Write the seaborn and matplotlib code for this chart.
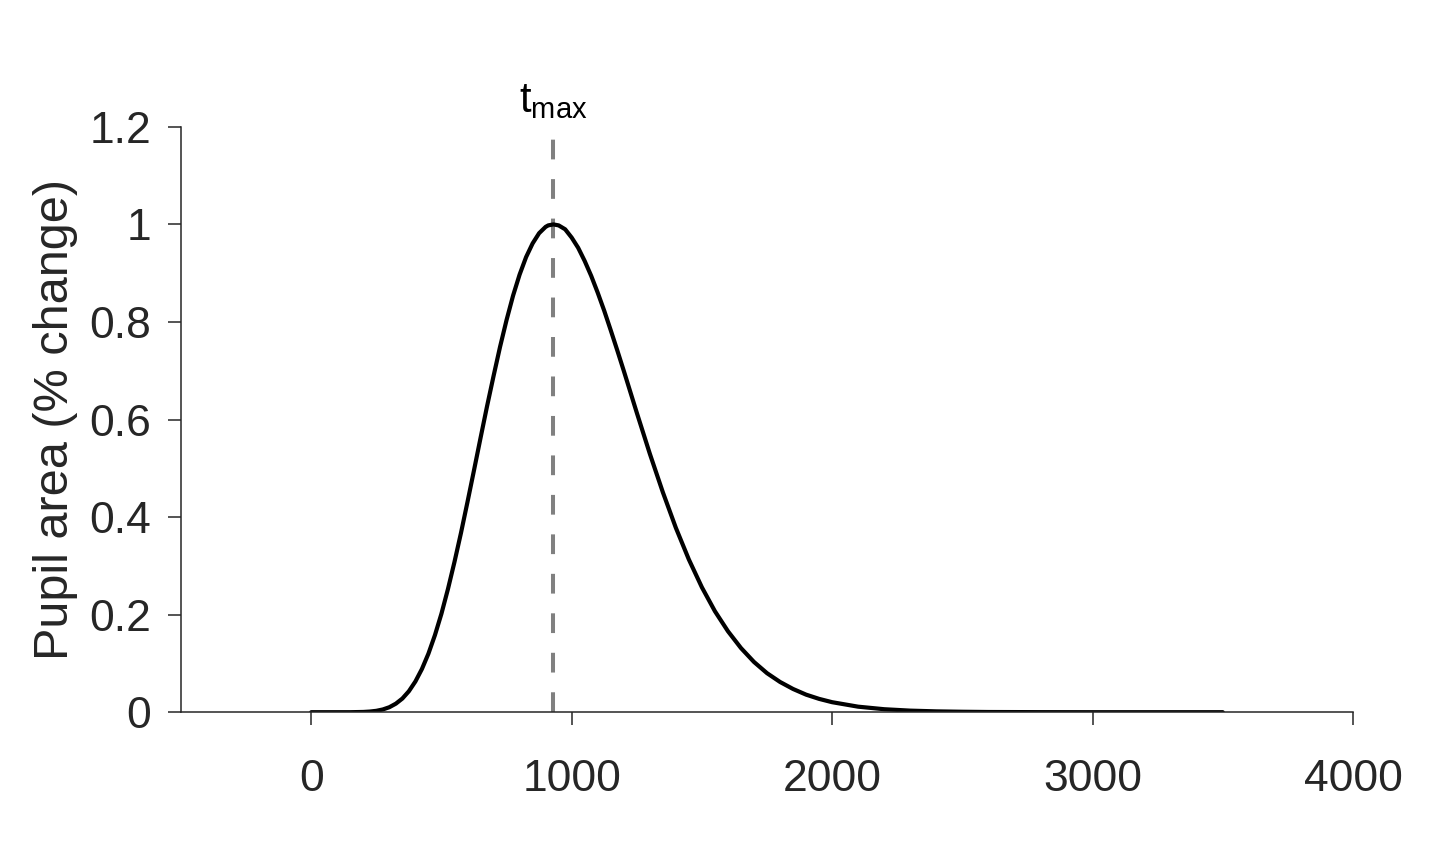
import matplotlib
matplotlib.use("Agg")
import matplotlib.pyplot as plt
import seaborn as sns
import pandas as pd

# Temps (ms) et réponse pupillaire
time_ms = [0, 50, 100, 150, 200, 225, 250, 275, 300, 325, 350, 375, 400, 425,
           450, 475, 500, 525, 550, 575, 600, 625, 650, 675, 700, 725, 750,
           775, 800, 825, 850, 875, 900, 910, 930, 950, 975, 1000, 1025, 1050,
           1075, 1100, 1125, 1150, 1175, 1200, 1250, 1300, 1350, 1400, 1450,
           1500, 1550, 1600, 1650, 1700, 1750, 1800, 1850, 1900, 1950, 2000,
           2100, 2200, 2300, 2400, 2500, 2600, 2800, 3000, 3250, 3500]
pupil_change = [0.0, 0.0, 0.0, 0.0, 0.0005, 0.0013, 0.0028, 0.0056, 0.0102,
                0.0175, 0.028, 0.043, 0.063, 0.0885, 0.120, 0.158, 0.202,
                0.2525, 0.308, 0.3675, 0.431, 0.496, 0.562, 0.627, 0.689,
                0.749, 0.804, 0.854, 0.897, 0.933, 0.961, 0.982, 0.995, 0.998,
                1.0, 0.998, 0.990, 0.973, 0.952, 0.925, 0.8945, 0.860, 0.823,
                0.783, 0.742, 0.700, 0.614, 0.530, 0.451, 0.378, 0.313, 0.256,
                0.207, 0.166, 0.1315, 0.103, 0.080, 0.062, 0.0476, 0.036,
                0.0273, 0.0205, 0.0113, 0.0061, 0.0032, 0.0017, 0.0009, 0.0004,
                0.0001, 0.0, 0.0, 0.0]
tmax_ms = 930

x_ticks = [0, 1000, 2000, 3000, 4000]
y_ticks = [0, 0.2, 0.4, 0.6, 0.8, 1.0, 1.2]
y_tick_labels = ['0', '0.2', '0.4', '0.6', '0.8', '1', '1.2']

df = pd.DataFrame({'time': time_ms, 'pupil': pupil_change})

sns.set_style('ticks')
plt.rcParams['font.family'] = ['Liberation Sans', 'DejaVu Sans']
plt.rcParams['mathtext.default'] = 'regular'

text_col = '#262626'
fig = plt.figure(figsize=(14.48, 8.56), dpi=100)
ax = fig.add_axes([0.125, 0.168, 0.8094, 0.6838])

# Ligne verticale en pointillés à t_max
ax.vlines(tmax_ms, 0, 1.2, colors='#808080', linewidth=2.9, linestyles=(0, (4.9, 4.9)), zorder=1)

# Courbe de réponse pupillaire
sns.lineplot(data=df, x='time', y='pupil', color='black', linewidth=3, ax=ax, zorder=2)

ax.text(tmax_ms, 1.212, r'$t_{max}$', ha='center', va='bottom', fontsize=30, color='black')

ax.set_xlim(-500, 4000)
ax.set_ylim(0, 1.2)
ax.set_xticks(x_ticks)
ax.set_yticks(y_ticks)
ax.set_yticklabels(y_tick_labels)
ax.set_xlabel('')
ax.set_ylabel('Pupil area (% change)', fontsize=35, color=text_col, labelpad=8)

sns.despine(ax=ax)
for s in ['left', 'bottom']:
    ax.spines[s].set_color(text_col)
    ax.spines[s].set_linewidth(1.1)
ax.tick_params(axis='both', direction='out', length=9.5, width=1.1, colors=text_col,
               labelsize=32, labelcolor=text_col)
ax.tick_params(axis='x', pad=24)
ax.tick_params(axis='y', pad=12)

fig.savefig('out.png', dpi=100)
